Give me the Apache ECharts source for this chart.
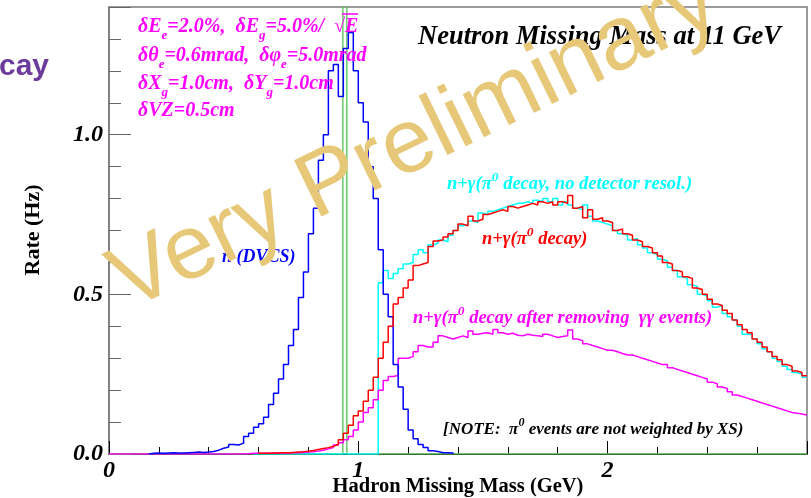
<!DOCTYPE html>
<html>
<head>
<meta charset="utf-8">
<script src="https://cdn.jsdelivr.net/npm/echarts@6/dist/echarts.min.js"></script>
<style>
  html, body { margin: 0; padding: 0; background: #fff; }
  #chart { width: 811px; height: 498px; }
</style>
</head>
<body>
<div id="chart"></div>
<script>
// histogram binning (GeV) and axis ranges
const binWidth = 0.02
const xMax = 2.8
const yMax = 1.4
const xTickLabels = [0, 1, 2]
const yTickLabels = [0.0, 0.5, 1.0]

// n (DVCS), first bin at 0.16 GeV
const dvcsStart = 0.16
const dvcs = [
  0.002, 0.003, 0.002, 0.003, 0.004, 0.003, 0.003, 0.004, 0.005, 0.006,
  0.005, 0.006, 0.008, 0.012, 0.018, 0.022, 0.03, 0.028, 0.034, 0.055,
  0.065, 0.084, 0.095, 0.115, 0.155, 0.19, 0.235, 0.28, 0.34, 0.39,
  0.49, 0.57, 0.69, 0.77, 0.92, 1.0, 1.2, 1.22, 1.12, 1.27,
  1.32, 1.2, 1.1, 1.04, 0.9, 0.8, 0.64, 0.5, 0.43, 0.28,
  0.21, 0.14, 0.075, 0.048, 0.03, 0.02, 0.01, 0.008, 0.004, 0.004,
  0.003,
]

// n+gamma (pi0 decay), first bin at 0.60 GeV
const pi0Start = 0.6
const pi0 = [
  0.002, 0.002, 0.003, 0.003, 0.004, 0.004, 0.005, 0.006, 0.007, 0.009,
  0.011, 0.014, 0.017, 0.02, 0.024, 0.03, 0.045, 0.065, 0.09, 0.12,
  0.135, 0.165, 0.2, 0.24, 0.3, 0.35, 0.4, 0.47, 0.49, 0.52,
  0.545, 0.59, 0.595, 0.6, 0.65, 0.667, 0.67, 0.68, 0.69, 0.7,
  0.72, 0.715, 0.745, 0.73, 0.735, 0.75, 0.755, 0.76, 0.765, 0.76,
  0.775, 0.77, 0.775, 0.78, 0.785, 0.78, 0.79, 0.785, 0.79, 0.78,
  0.79, 0.785, 0.81, 0.77, 0.775, 0.74, 0.765, 0.735, 0.74, 0.73,
  0.725, 0.7, 0.705, 0.69, 0.685, 0.67, 0.665, 0.65, 0.645, 0.63,
  0.62, 0.6, 0.595, 0.575, 0.57, 0.555, 0.55, 0.52, 0.515, 0.5,
  0.485, 0.47, 0.465, 0.45, 0.44, 0.42, 0.405, 0.39, 0.38, 0.36,
  0.35, 0.335, 0.32, 0.305, 0.295, 0.28, 0.275, 0.26, 0.255, 0.245,
]

// n+gamma (pi0 decay, no detector resolution), first bin at 0.58 GeV
const pi0NoResStart = 0.58
const pi0NoRes = [
  0, 0, 0, 0, 0, 0, 0, 0, 0, 0,
  0, 0, 0, 0, 0, 0, 0, 0, 0, 0,
  0, 0, 0, 0, 0,
  0.536, 0.575, 0.55, 0.565, 0.58, 0.595, 0.6, 0.625, 0.64, 0.63,
  0.655, 0.66, 0.67, 0.665, 0.685, 0.7, 0.715, 0.72, 0.73, 0.725,
  0.755, 0.75, 0.76, 0.765, 0.77, 0.775, 0.78, 0.785, 0.785, 0.79,
  0.785, 0.795, 0.79, 0.8, 0.79, 0.8, 0.78, 0.79, 0.78, 0.77,
  0.765, 0.78, 0.745, 0.73, 0.725, 0.72, 0.715, 0.7, 0.69, 0.685,
  0.67, 0.675, 0.655, 0.645, 0.63, 0.625, 0.61, 0.605, 0.585, 0.575,
  0.555, 0.55, 0.53, 0.525, 0.5, 0.495, 0.48, 0.46, 0.465, 0.44,
  0.43, 0.42, 0.4, 0.375, 0.375, 0.36, 0.345, 0.33, 0.32, 0.3,
  0.29, 0.275, 0.265, 0.255, 0.25, 0.24,
]

// n+gamma (pi0 decay after removing gamma-gamma events), first bin at 0
const pi0CutStart = 0
const pi0Cut = [
  0, 0, 0, 0, 0, 0, 0, 0, 0, 0,
  0, 0, 0, 0, 0, 0, 0, 0, 0, 0,
  0, 0, 0, 0, 0, 0, 0,
  0.001, 0.002, 0.002, 0.002, 0.002, 0.002, 0.003, 0.003, 0.003, 0.004,
  0.004, 0.005, 0.006, 0.007, 0.009, 0.012, 0.016, 0.02, 0.028, 0.035,
  0.045, 0.055, 0.075, 0.1, 0.13, 0.145, 0.17, 0.2, 0.23, 0.243,
  0.246, 0.3, 0.3, 0.305, 0.32, 0.34, 0.335, 0.335, 0.35, 0.37,
  0.365, 0.36, 0.365, 0.37, 0.365, 0.385, 0.375, 0.378, 0.38, 0.375,
  0.39, 0.38, 0.375, 0.378, 0.372, 0.37, 0.375, 0.372, 0.37, 0.368,
  0.375, 0.37, 0.365, 0.368, 0.37, 0.388, 0.36, 0.355, 0.345, 0.34,
  0.335, 0.33, 0.325, 0.325, 0.32, 0.315, 0.31, 0.31, 0.305, 0.3,
  0.295, 0.29, 0.285, 0.28, 0.28, 0.27, 0.265, 0.26, 0.255, 0.25,
  0.245, 0.24, 0.235, 0.225, 0.22, 0.21, 0.205, 0.195, 0.185, 0.18,
  0.175, 0.17, 0.165, 0.16, 0.155, 0.15, 0.145, 0.14, 0.135, 0.13,
  0.128, 0.125, 0.122,
]

// generated nucleon peak (one narrow bin, off scale)
const peakEdges = [0, 0.938, 0.954, 2.8]
const peakValues = [0, 5, 0]

function histSteps (start, values, closeLeft, closeRight) {
  const pts = []
  if (closeLeft) pts.push([start, 0])
  values.forEach((v, i) => pts.push([+(start + i * binWidth).toFixed(4), v]))
  const end = Math.min(+(start + values.length * binWidth).toFixed(4), xMax)
  pts.push([end, values[values.length - 1]])
  if (closeRight) pts.push([end, 0])
  return pts
}

function edgeSteps (edges, values) {
  const pts = values.map((v, i) => [edges[i], v])
  pts.push([edges[edges.length - 1], values[values.length - 1]])
  return pts
}

const serif = 'Liberation Serif'

function histSeries (name, color, data, z) {
  return {
    name: name,
    type: 'line',
    step: 'end',
    symbol: 'none',
    z: z,
    clip: true,
    animation: false,
    lineStyle: {color: color, width: 1.5},
    data: data,
  }
}

function label (x, y, text, color, size) {
  return {
    type: 'text',
    x: x,
    y: y,
    z: 50,
    style: {
      text: text,
      fill: color,
      fontFamily: serif,
      fontWeight: 'bold',
      fontStyle: 'italic',
      fontSize: size,
      lineHeight: 26,
      align: 'left',
      verticalAlign: 'middle',
      rich: {
        p: {fontSize: size - 5, verticalAlign: 'top', fontFamily: serif, fontWeight: 'bold', fontStyle: 'italic', fill: color},
      },
    },
  }
}

function resLine (y, text) {
  const sub = {fontSize: 13, verticalAlign: 'bottom', lineHeight: 30, fontFamily: serif, fontWeight: 'bold', fontStyle: 'italic', fill: '#ff00ff'}
  return {
    type: 'text',
    x: 138,
    y: y,
    z: 50,
    style: {
      text: text,
      fill: '#ff00ff',
      fontFamily: serif,
      fontWeight: 'bold',
      fontStyle: 'italic',
      fontSize: 20,
      lineHeight: 30,
      align: 'left',
      verticalAlign: 'top',
      rich: {s: sub},
    },
  }
}

const isTick = (list, v) => list.some(t => Math.abs(t - v) < 1e-6)

const chart = echarts.init(document.getElementById('chart'), null, {renderer: 'canvas'})

chart.setOption({
  animation: false,
  backgroundColor: '#fff',
  grid: {
    left: 109, right: 4, top: 7, bottom: 44,
    show: true, borderColor: '#7a7a7a', borderWidth: 1.5,
  },
  xAxis: [
    {
      type: 'value', min: 0, max: xMax, interval: 1,
      axisLine: {show: true, lineStyle: {color: '#000', width: 1}},
      axisTick: {inside: true, length: 13, lineStyle: {color: '#000', width: 1}},
      axisLabel: {
        margin: 5, color: '#000', fontFamily: serif, fontWeight: 'bold', fontStyle: 'italic', fontSize: 24,
        formatter: v => isTick(xTickLabels, v) ? String(Math.round(v)) : '',
      },
      splitLine: {show: false},
    },
    {
      type: 'value', min: 0, max: xMax, interval: 0.2, position: 'bottom',
      axisLine: {show: false},
      axisTick: {inside: true, length: 7, lineStyle: {color: '#000', width: 1}},
      axisLabel: {show: false},
      splitLine: {show: false},
    },
  ],
  yAxis: [
    {
      type: 'value', min: 0, max: yMax, interval: 0.5,
      axisLine: {show: true, lineStyle: {color: '#7a7a7a', width: 1.5}},
      axisTick: {inside: true, length: 22, lineStyle: {color: '#666', width: 1}},
      axisLabel: {
        margin: 6, color: '#000', fontFamily: serif, fontWeight: 'bold', fontStyle: 'italic', fontSize: 24,
        formatter: v => isTick(yTickLabels, v) ? v.toFixed(1) : '',
      },
      splitLine: {show: false},
    },
    {
      type: 'value', min: 0, max: yMax, interval: 0.1, position: 'left',
      axisLine: {show: false},
      axisTick: {inside: true, length: 12, lineStyle: {color: '#666', width: 1}},
      axisLabel: {show: false},
      splitLine: {show: false},
    },
  ],
  series: [
    histSeries('n peak', '#66cc66', edgeSteps(peakEdges, peakValues), 2),
    histSeries('pi0 no resol', '#00ffff', histSteps(pi0NoResStart, pi0NoRes, false, false), 3),
    histSeries('pi0 cut', '#ff00ff', histSteps(pi0CutStart, pi0Cut, false, false), 4),
    histSeries('n (DVCS)', '#0000ff', histSteps(dvcsStart, dvcs, true, true), 5),
    histSeries('pi0', '#ff0000', histSteps(pi0Start, pi0, false, false), 6),
  ],
  graphic: [
    {
      type: 'text', x: -1, y: 67, z: 50,
      style: {text: 'cay', fill: '#6d3b9c', fontFamily: 'Liberation Sans', fontWeight: 'bold', fontSize: 30, align: 'left', verticalAlign: 'middle'},
    },
    {
      type: 'text', x: 418, y: 37, z: 50,
      style: {text: 'Neutron Missing Mass at 11 GeV', fill: '#000', fontFamily: serif, fontWeight: 'bold', fontStyle: 'italic', fontSize: 26.5, align: 'left', verticalAlign: 'middle'},
    },
    resLine(12, 'δE{s|e}=2.0%,  δE{s|g}=5.0%/  √E'),
    resLine(41, 'δθ{s|e}=0.6mrad,  δφ{s|e}=5.0mrad'),
    resLine(69, 'δX{s|g}=1.0cm,  δY{s|g}=1.0cm'),
    resLine(96, 'δVZ=0.5cm'),
    {
      type: 'line', z: 50,
      shape: {x1: 342, y1: 14, x2: 358, y2: 14},
      style: {stroke: '#ff00ff', lineWidth: 1.5},
    },
    label(447, 184, 'n+γ(π{p|0} decay, no detector resol.)', '#00ffff', 18.5),
    label(482, 239, 'n+γ(π{p|0} decay)', '#ff0000', 18.5),
    label(413, 318, 'n+γ(π{p|0} decay after removing  γγ events)', '#ff00ff', 18.5),
    label(222, 257, 'n (DVCS)', '#0000ff', 18),
    label(443, 430, '[NOTE:  π{p|0} events are not weighted by XS)', '#000', 17),
    {
      type: 'text', x: 458, y: 487, z: 50,
      style: {text: 'Hadron Missing Mass (GeV)', fill: '#000', fontFamily: serif, fontWeight: 'bold', fontSize: 20.5, align: 'center', verticalAlign: 'middle'},
    },
    {
      type: 'text', x: 33, y: 230, z: 50, rotation: Math.PI / 2,
      style: {text: 'Rate (Hz)', fill: '#000', fontFamily: serif, fontWeight: 'bold', fontSize: 22, align: 'center', verticalAlign: 'middle'},
    },
    {
      type: 'text', x: 415, y: 143, z: 100, rotation: 26 * Math.PI / 180,
      style: {text: 'Very Preliminary', fill: '#e6c878', fontFamily: 'Liberation Sans', fontSize: 91, align: 'center', verticalAlign: 'middle'},
    },
  ],
})
</script>
</body>
</html>
